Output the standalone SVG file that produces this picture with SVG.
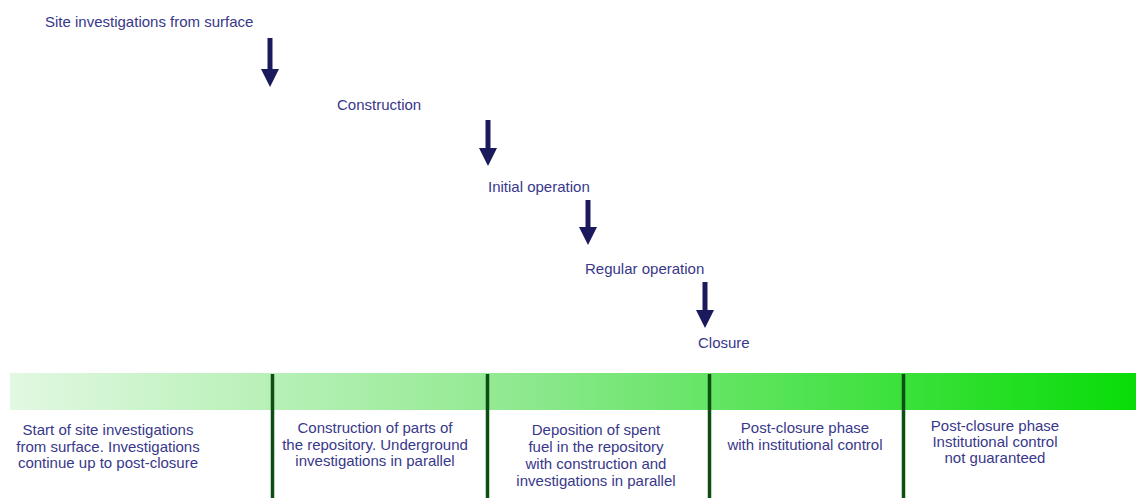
<svg xmlns="http://www.w3.org/2000/svg" width="1136" height="498" viewBox="0 0 1136 498">
<style>
.t{font-family:"Liberation Sans",Arial,sans-serif;font-size:15px;fill:#38388a}
.c{text-anchor:middle}
.div{stroke:#0d4f12;stroke-width:3.5}
.arr{stroke:#1a1a5c;stroke-width:5;fill:none}
.head{fill:#1a1a5c}
</style>
<defs>
<linearGradient id="g" x1="0" y1="0" x2="1" y2="0">
<stop offset="0" stop-color="#e2f8e2"/>
<stop offset="0.45" stop-color="#8fe98f"/>
<stop offset="1" stop-color="#08dc08"/>
</linearGradient>
</defs>
<rect width="1136" height="498" fill="#ffffff"/>
<rect x="10" y="373" width="1126" height="37" fill="url(#g)"/>
<g id="dividers">
<line class="div" x1="272.5" y1="374" x2="272.5" y2="498"/>
<line class="div" x1="487.5" y1="374" x2="487.5" y2="498"/>
<line class="div" x1="709.5" y1="374" x2="709.5" y2="498"/>
<line class="div" x1="903.5" y1="374" x2="903.5" y2="498"/>
</g>
<g id="n1"><text class="t" x="45" y="27">Site investigations from surface</text></g>
<g id="n2"><text class="t" x="337" y="110">Construction</text></g>
<g id="n3"><text class="t" x="488" y="192">Initial operation</text></g>
<g id="n4"><text class="t" x="585" y="274">Regular operation</text></g>
<g id="n5"><text class="t" x="698" y="348">Closure</text></g>
<g id="connectors">
<line class="arr" x1="270" y1="38" x2="270" y2="71"/>
<polygon class="head" points="261,69 279,69 270,87"/>
<line class="arr" x1="488" y1="120" x2="488" y2="150"/>
<polygon class="head" points="479,148 497,148 488,166"/>
<line class="arr" x1="588" y1="200" x2="588" y2="229"/>
<polygon class="head" points="579,227 597,227 588,245"/>
<line class="arr" x1="705" y1="282" x2="705" y2="312"/>
<polygon class="head" points="696,310 714,310 705,328"/>
</g>
<g id="p1"><text class="t c" x="108" y="435">Start of site investigations</text><text class="t c" x="108" y="452">from surface. Investigations</text><text class="t c" x="108" y="468">continue up to post-closure</text></g>
<g id="p2"><text class="t c" x="375" y="433">Construction of parts of</text><text class="t c" x="375" y="450">the repository. Underground</text><text class="t c" x="375" y="466">investigations in parallel</text></g>
<g id="p3"><text class="t c" x="596" y="435">Deposition of spent</text><text class="t c" x="596" y="452">fuel in the repository</text><text class="t c" x="596" y="469">with construction and</text><text class="t c" x="596" y="486">investigations in parallel</text></g>
<g id="p4"><text class="t c" x="805" y="433">Post-closure phase</text><text class="t c" x="805" y="450">with institutional control</text></g>
<g id="p5"><text class="t c" x="995" y="431">Post-closure phase</text><text class="t c" x="995" y="447">Institutional control</text><text class="t c" x="995" y="463">not guaranteed</text></g>
</svg>
